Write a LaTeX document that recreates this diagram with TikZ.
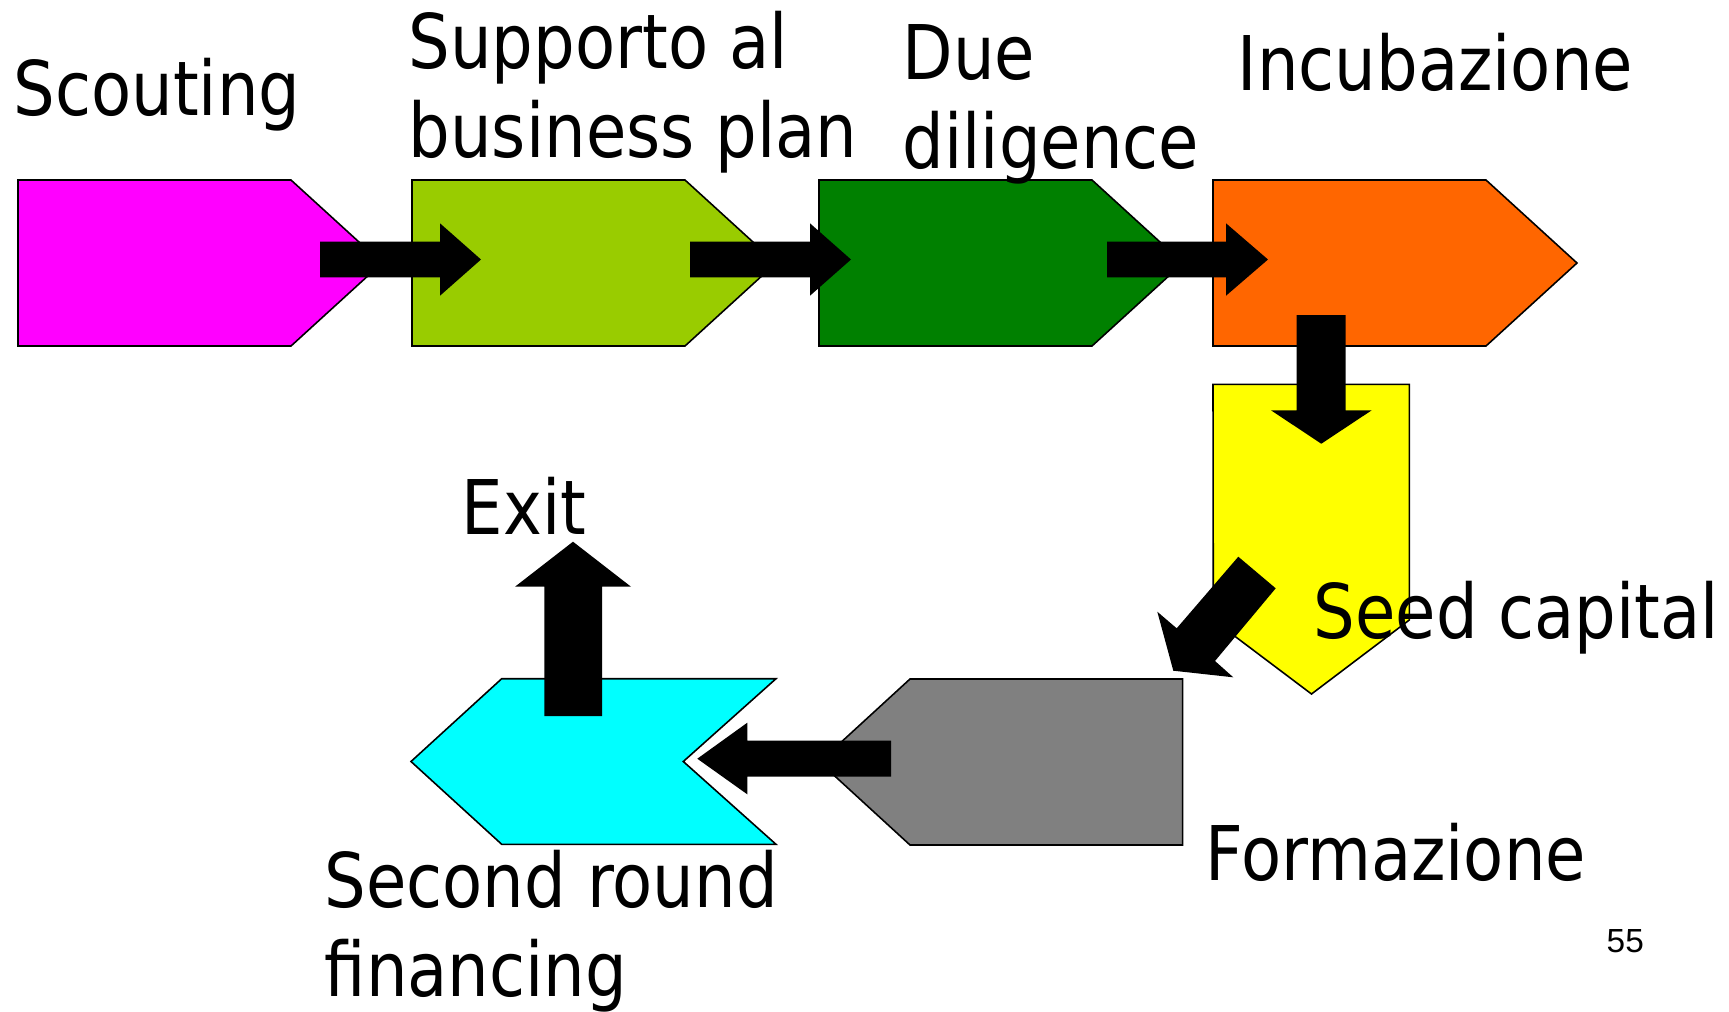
\documentclass[tikz,border=0pt]{standalone}
\usepackage{fontspec}
\setmainfont{DejaVu Sans}[FakeStretch=0.87]
\newfontfamily\pagenumfont{Liberation Sans}
\definecolor{cMagenta}{HTML}{FF00FF}
\definecolor{cLime}{HTML}{99CC00}
\definecolor{cDarkGreen}{HTML}{008000}
\definecolor{cOrange}{HTML}{FF6600}
\definecolor{cYellow}{HTML}{FFFF00}
\definecolor{cGray}{HTML}{808080}
\definecolor{cCyan}{HTML}{00FFFF}
\tikzset{
  stagebox/.style={draw=black, line width=0.45pt, line join=miter},
  blockarrow/.style={fill=black, draw=none},
  label/.style={anchor=base west, inner sep=0pt, align=left,
    font=\fontsize{21.45}{25.3}\selectfont},
}
% pentagon tag pointing right: body 273 wide, point 91 deep, 166 tall
\newcommand\righttag[3]{%
  \draw[stagebox, fill=#2] (#3,180) coordinate (#1) -- ++(273,0) -- ++(91,83)
    coordinate (#1-tip) -- ++(-91,83) -- ++(-273,0) -- cycle;}
\begin{document}
\begin{tikzpicture}[x=0.01cm, y=-0.01cm]
\useasboundingbox (0,0) rectangle (1729,1011);

% process stages
\righttag{scout}{cMagenta}{18}
\righttag{bplan}{cLime}{412}
\righttag{dued}{cDarkGreen}{819}
\righttag{incub}{cOrange}{1213}
\draw[stagebox, fill=cYellow] (1213,384.3) coordinate (seed) -- (1409.3,384.3)
  -- (1409.3,620) -- (1311.5,694) coordinate (seed-tip) -- (1213.3,620) -- cycle;
\draw[stagebox, fill=cGray] (819.5,762) coordinate (form-tip) -- (910,679)
  -- (1182.7,679) coordinate (form) -- (1182.7,845) -- (910,845) -- cycle;
\draw[stagebox, fill=cCyan] (411,761.5) coordinate (second-tip) -- (501.7,678.7)
  -- (776,678.7) coordinate (second) -- (683.3,761.5) -- (776,844.3)
  -- (501.7,844.3) -- cycle;

% block arrows between stages
\fill[blockarrow] (320,241.7) -- (440,241.7) -- (440,223.3) -- (481,259.5)
  -- (440,295.7) -- (440,277.3) -- (320,277.3) -- cycle;
\fill[blockarrow] (690,241.7) -- (810,241.7) -- (810,223.3) -- (851,259.5)
  -- (810,295.7) -- (810,277.3) -- (690,277.3) -- cycle;
\fill[blockarrow] (1107,241.7) -- (1226,241.7) -- (1226,223.3) -- (1268,259.5)
  -- (1226,295.7) -- (1226,277.3) -- (1107,277.3) -- cycle;
\fill[blockarrow] (1296.5,315) -- (1345.7,315) -- (1345.7,410.3) -- (1371.7,410.3)
  -- (1321.3,443.7) -- (1271,410.3) -- (1296.5,410.3) -- cycle;
\fill[blockarrow] (1238.3,556.7) -- (1275.7,588.3) -- (1215,661) -- (1233.3,677.3)
  -- (1173.3,670.7) -- (1157.3,611.7) -- (1176.7,628.3) -- cycle;
\fill[blockarrow] (891,740.7) -- (747.3,740.7) -- (747.3,722.7) -- (697.3,758.7)
  -- (747.3,794.3) -- (747.3,776.7) -- (891,776.7) -- cycle;
\fill[blockarrow] (544.3,716) -- (544.3,586.7) -- (515,586.7) -- (573,541.7)
  -- (631,586.7) -- (602,586.7) -- (602,716) -- cycle;

% stage names (multi-line nodes sit on the baseline of their last line)
\node[label] (tScout) at (13,115) {Scouting};
\node[label] (tBplan) at (408,157) {Supporto al\\business plan};
\node[label] (tDue) at (902,168) {Due\\diligence};
\node[label] (tIncub) at (1237,90) {Incubazione};
\node[label] (tSeed) at (1313,638) {Seed capital};
\node[label] (tForm) at (1205,880) {Formazione};
\node[label] (tSecond) at (324,996) {Second round\\financing};
\node[label] (tExit) at (461,534) {Exit};

% page number
\node[anchor=base west, inner sep=0pt, font=\pagenumfont\fontsize{9.5}{11}\selectfont]
  (pagenum) at (1606,952) {55};
\end{tikzpicture}
\end{document}
